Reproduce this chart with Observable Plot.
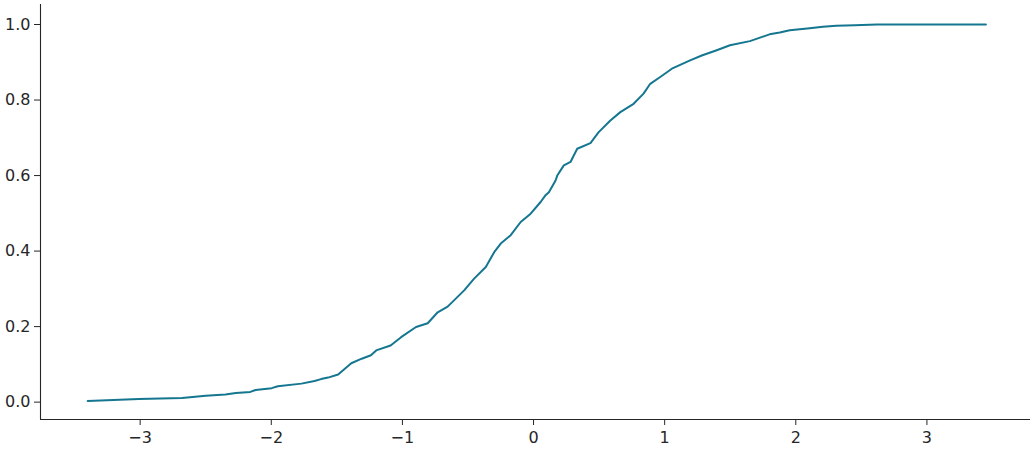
<!DOCTYPE html>
<html>
<head>
<meta charset="utf-8">
<script src="https://cdn.jsdelivr.net/npm/d3@7"></script>
<script src="https://cdn.jsdelivr.net/npm/@observablehq/plot@0.6"></script>
<style>
  html, body { margin: 0; padding: 0; background: #fff; }
  #chart svg text { font-family: "DejaVu Sans", sans-serif !important; font-size: 16px !important; fill: #262626; }
</style>
</head>
<body>
<div id="chart"></div>
<script>
const xValues = [-3.40, -3.01, -2.68, -2.50, -2.35, -2.27, -2.16, -2.12, -1.997, -1.95, -1.77, -1.67, -1.62, -1.567, -1.49, -1.41, -1.39, -1.31, -1.24, -1.20, -1.09, -1.01, -0.896, -0.807, -0.731, -0.655, -0.529, -0.453, -0.364, -0.30, -0.25, -0.174, -0.098, -0.022, 0.054, 0.092, 0.117, 0.168, 0.181, 0.231, 0.282, 0.333, 0.434, 0.497, 0.586, 0.662, 0.763, 0.839, 0.89, 0.966, 1.055, 1.194, 1.283, 1.397, 1.498, 1.65, 1.80, 1.878, 1.954, 2.106, 2.207, 2.308, 2.45, 2.62, 3.45];
const yValues = [0.003, 0.008, 0.011, 0.017, 0.020, 0.024, 0.027, 0.032, 0.037, 0.042, 0.049, 0.056, 0.061, 0.065, 0.073, 0.097, 0.103, 0.115, 0.124, 0.137, 0.150, 0.172, 0.199, 0.209, 0.238, 0.253, 0.296, 0.327, 0.358, 0.397, 0.42, 0.442, 0.477, 0.499, 0.530, 0.548, 0.556, 0.587, 0.60, 0.627, 0.636, 0.671, 0.686, 0.715, 0.746, 0.768, 0.790, 0.817, 0.843, 0.861, 0.883, 0.905, 0.918, 0.932, 0.945, 0.956, 0.974, 0.979, 0.985, 0.990, 0.994, 0.997, 0.998, 1.0, 1.0];
const xTicks = [-3, -2, -1, 0, 1, 2, 3];
const yTicks = [0.0, 0.2, 0.4, 0.6, 0.8, 1.0];
const xDomain = [-3.76, 3.79];
const yDomain = [-0.046, 1.053];

const data = xValues.map((x, i) => ({x, y: yValues[i]}));

const chart = Plot.plot({
  width: 1035,
  height: 450,
  marginLeft: 40,
  marginRight: 5,
  marginTop: 4,
  marginBottom: 31,
  style: {
    fontFamily: "DejaVu Sans, sans-serif",
    fontSize: "16px",
    color: "#262626",
    background: "#fff"
  },
  x: {domain: xDomain},
  y: {domain: yDomain},
  marks: [
    Plot.ruleY([yDomain[0]], {stroke: "#262626", strokeWidth: 1.1}),
    Plot.ruleX([xDomain[0]], {stroke: "#262626", strokeWidth: 1.1}),
    Plot.axisX({
      ticks: xTicks,
      tickSize: 6,
      tickPadding: 6,
      label: null,
      stroke: "#262626",
      strokeOpacity: 1,
      tickFormat: d => d < 0 ? "\u2212" + Math.abs(d) : String(d)
    }),
    Plot.axisY({
      ticks: yTicks,
      tickSize: 6,
      tickPadding: 4,
      label: null,
      stroke: "#262626",
      strokeOpacity: 1,
      tickFormat: d3.format(".1f")
    }),
    Plot.line(data, {x: "x", y: "y", stroke: "#15768f", strokeWidth: 2, curve: "linear"})
  ]
});
document.getElementById("chart").appendChild(chart);
</script>
</body>
</html>
